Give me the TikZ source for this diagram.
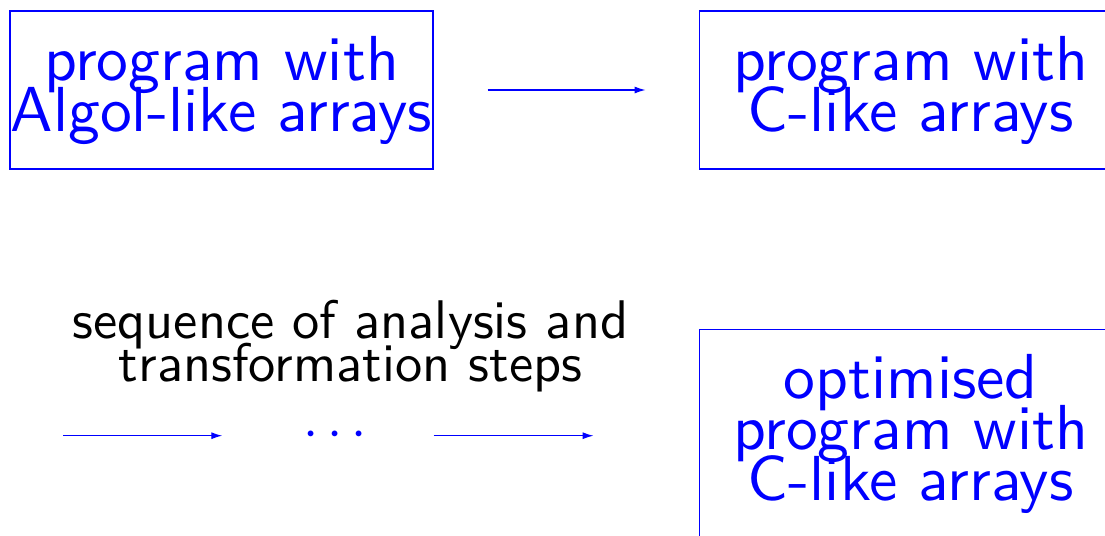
\RequirePackage{fix-cm}
\documentclass[tikz,border=0pt]{standalone}
\usepackage{fontspec}
\usepackage{xcolor}
\usepackage{tikz}
\usetikzlibrary{arrows.meta,positioning}
\newfontfamily\slidesans{lmsans10-regular.otf}
\newcommand{\boxfont}{\fontsize{31.8}{25.5}\selectfont\slidesans\lineskiplimit=-50pt\relax}
\newcommand{\stepfont}{\fontsize{27.2}{21.5}\selectfont\slidesans\lineskiplimit=-50pt\relax}
\tikzset{
  progbox/.style={draw=blue,line width=0.6pt,minimum width=211.5pt,
    minimum height=79pt,inner sep=0pt,align=center,text=blue,font=\boxfont},
  flowarrow/.style={-{Latex[length=5.5pt,width=3.5pt]},line width=0.6pt,draw=blue},
  steptext/.style={align=center,inner sep=0pt,font=\stepfont}
}
\begin{document}
\begin{tikzpicture}
\useasboundingbox (-110.75pt,45pt) rectangle ++(552.5pt,-268pt);
\node[progbox] (algol) at (0,0) {program with\\Algol-like arrays};
\node[progbox,right=132.5pt of algol] (clike) {program with\\C-like arrays};
\node[progbox,minimum height=104.5pt,below=79.5pt of clike] (opt) {optimised\\program with\\C-like arrays};
\node[inner sep=0pt,text=blue,font=\stepfont,left=165.5pt of opt,yshift=-1pt] (dots) {$\cdots$};
\coordinate[left=120pt of dots] (src);
\node[steptext] (steps) at ([shift={(7.5pt,45pt)}]dots) {sequence of analysis and\\transformation steps};
\draw[flowarrow,shorten <=27pt,shorten >=26.5pt] (algol) -- (clike);
\draw[flowarrow,shorten >=40.5pt] (src) -- (dots);
\draw[flowarrow,shorten <=33pt,shorten >=52.5pt] (dots) -- (dots -| opt.west);
\end{tikzpicture}
\end{document}
